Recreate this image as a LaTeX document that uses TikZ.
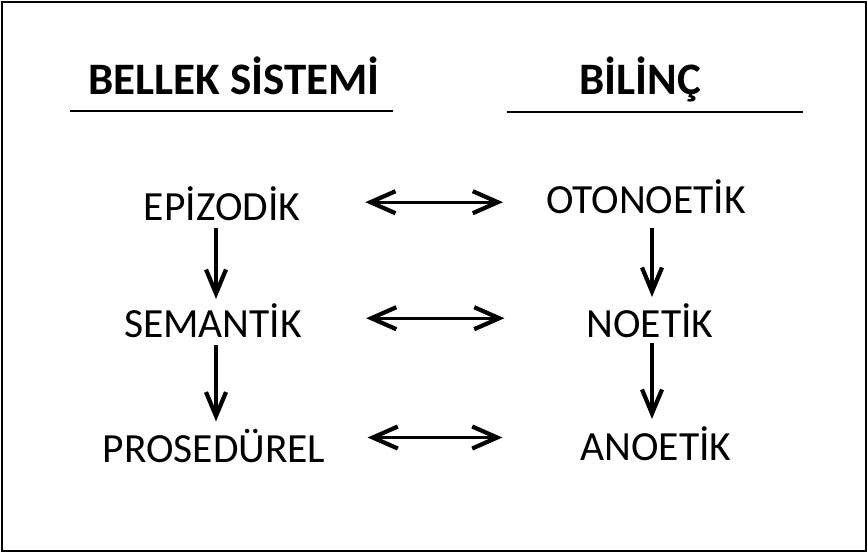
\documentclass[tikz,border=0pt]{standalone}
\usepackage{fontspec}
\setmainfont{Carlito}
\usepackage{tikz}
\usetikzlibrary{arrows.meta}

\begin{document}
\begin{tikzpicture}[x=1pt,y=-1pt,
    term/.style={font=\fontsize{41.5}{45}\selectfont,anchor=base,inner sep=0pt},
    head/.style={font=\fontsize{45}{50}\selectfont\bfseries,anchor=base,inner sep=0pt},
    rule/.style={line width=2.8pt},
    tip/.style={-{Straight Barb[length=24pt,width=20pt,line width=4.2pt]},line width=3.3pt},
    dbl/.style={{Straight Barb[length=25pt,width=22pt,line width=4.2pt]}-{Straight Barb[length=25pt,width=22pt,line width=4.2pt]},line width=3.3pt}
]

% frame
\draw[line width=2pt] (1.5,1.5) rectangle (865.5,550.5);
\useasboundingbox (0,0) rectangle (867,552);

% column headings
\node[head] (bellek) at (234,94) {BELLEK SİSTEMİ};
\node[head] (bilinc) at (640,94) {BİLİNÇ};
\draw[rule] (70,111) -- (393,111);
\draw[rule] (507,112) -- (803,112);

% memory systems
\node[term] (epi) at (222,220) {EPİZODİK};
\node[term] (sem) at (213,337) {SEMANTİK};
\node[term] (pro) at (214,462) {PROSEDÜREL};

% kinds of consciousness
\node[term] (oto) at (646,213) {OTONOETİK};
\node[term] (noe) at (650,337) {NOETİK};
\node[term] (ano) at (656,460) {ANOETİK};

% downward arrows
\draw[tip,shorten <=8pt,shorten >=4pt] ([xshift=-6pt]epi.south) -- ([xshift=-6pt]epi.south |- sem.north);
\draw[tip,shorten <=8pt,shorten >=7pt] ([xshift=3pt]sem.south) -- ([xshift=3pt]sem.south |- pro.north);
\draw[tip,shorten <=15pt,shorten >=6pt] ([xshift=6pt]oto.south) -- ([xshift=6pt]oto.south |- noe.north);
\draw[tip,shorten <=6pt,shorten >=7pt] ([xshift=2pt]noe.south) -- ([xshift=2pt]noe.south |- ano.north);

% two-way arrows
\draw[dbl,shorten <=65pt,shorten >=43pt] ([yshift=1pt]epi.east) -- ([yshift=1pt]epi.east -| oto.west);
\draw[dbl,shorten <=64pt,shorten >=82pt] ([yshift=2pt]sem.east) -- ([yshift=2pt]sem.east -| noe.west);
\draw[dbl,shorten <=42pt,shorten >=78pt] ([yshift=8pt]pro.east) -- ([yshift=8pt]pro.east -| ano.west);

\end{tikzpicture}
\end{document}
